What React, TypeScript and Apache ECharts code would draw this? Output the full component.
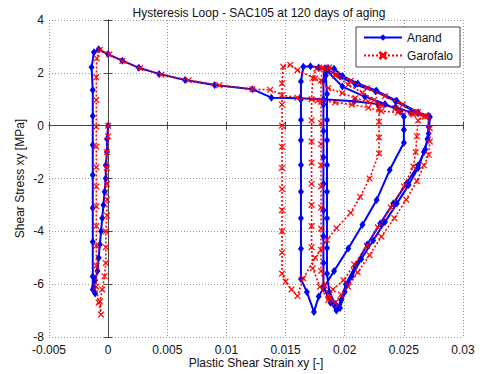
import React, { useEffect, useRef } from 'react';
import * as echarts from 'echarts';

type Pt = [number, number];

const chartTitle = 'Hysteresis Loop - SAC105 at 120 days of aging';
const xAxisName = 'Plastic Shear Strain xy [-]';
const yAxisName = 'Shear Stress xy [MPa]';
const seriesNames = ['Anand', 'Garofalo'];
const xMin = -0.005;
const xMax = 0.03;
const xStep = 0.005;
const yMin = -8;
const yMax = 4;
const yStep = 2;

// ---- Anand (blue) ----
const anandInitialDrop: Pt[] = [[0,0],[-0.0001,-0.5],[-0.0001,-1.0],[-0.0002,-1.5],[-0.0002,-2.0],[-0.0003,-2.5],[-0.0004,-3.0],[-0.0005,-3.5],[-0.0006,-4.0],[-0.0007,-4.5],[-0.0008,-5.0],[-0.0009,-5.5],[-0.0011,-5.85],[-0.0012,-6.1],[-0.0011,-6.35],[-0.0013,-6.2]];
const anandRise1: Pt[] = [[-0.0013,-5.71],[-0.0013,-4.39],[-0.0013,-3.12],[-0.0013,-1.87],[-0.0013,-0.73],[-0.0013,0.37],[-0.0013,1.35],[-0.0014,2.21],[-0.0012,2.78],[-0.0008,2.89]];
const anandTop1: Pt[] = [[0,2.7],[0.0012,2.46],[0.0026,2.19],[0.0043,1.96],[0.0065,1.73],[0.009,1.54],[0.0122,1.38],[0.0138,1.06],[0.0162,1.04],[0.0182,1.0],[0.0208,0.92],[0.0228,0.82],[0.0243,0.7],[0.0256,0.5],[0.0271,0.35]];
const anandDrop1: Pt[] = [[0.0271,-0.05],[0.027,-0.5],[0.0267,-1.0],[0.0262,-1.6],[0.0254,-2.25],[0.0244,-2.95],[0.0234,-3.65],[0.0224,-4.35],[0.0214,-5.05],[0.0206,-5.7],[0.02,-6.3],[0.0196,-6.9]];
const anandRise2: Pt[] = [[0.0192,-6.75],[0.0187,-6.3],[0.0185,-5.6],[0.0185,-4.63],[0.0185,-3.5],[0.0185,-2.5],[0.0185,-1.49],[0.0185,-0.55],[0.0185,0.21],[0.0185,1.2],[0.0184,1.9],[0.0186,2.18],[0.0191,2.15]];
const anandTop2: Pt[] = [[0.0198,1.88],[0.0211,1.6],[0.0227,1.32],[0.0244,0.94],[0.0262,0.5],[0.0272,0.33]];
const anandDrop2: Pt[] = [[0.0271,-0.3],[0.0268,-0.9],[0.0262,-1.5],[0.0252,-2.2],[0.0241,-2.95],[0.023,-3.7],[0.0219,-4.5],[0.0209,-5.3],[0.0201,-6.0],[0.0197,-6.6],[0.0193,-7.0]];
const anandRise3: Pt[] = [[0.0188,-6.7],[0.0182,-6.1],[0.0182,-5.2],[0.0182,-4.2],[0.0182,-3.2],[0.0182,-2.2],[0.0182,-1.2],[0.0182,-0.2],[0.0182,0.8],[0.0182,1.7],[0.0183,2.17]];
const anandTop3: Pt[] = [[0.0198,1.48],[0.0217,1.1],[0.0234,0.82],[0.0247,0.55],[0.025,0.34]];
const anandDrop3: Pt[] = [[0.025,-0.15],[0.025,-0.65],[0.0238,-1.68],[0.0227,-2.81],[0.0215,-3.75],[0.0203,-4.65],[0.0191,-5.5],[0.0182,-6.15],[0.0178,-6.47],[0.0174,-7.05],[0.0168,-6.3],[0.0163,-5.8]];
const anandRise4: Pt[] = [[0.0163,-4.66],[0.0163,-3.5],[0.0163,-2.5],[0.0163,-1.49],[0.0163,-0.55],[0.0163,0.21],[0.0163,1.0],[0.0163,1.67],[0.0165,2.23],[0.0171,2.25],[0.0178,2.2],[0.0185,2.12]];
const anandTop4: Pt[] = [[0.0196,1.86],[0.0209,1.56],[0.0226,1.3],[0.0243,0.92],[0.0262,0.47],[0.0271,0.37]];

// ---- Garofalo (red) ----
const garoInitialDrop: Pt[] = [[0,0],[0,-0.4],[-0.0001,-1.0],[-0.0001,-1.6],[-0.0001,-2.2],[-0.0001,-2.8],[-0.0001,-3.4],[-0.0002,-4.0],[-0.0002,-4.6],[-0.0002,-5.2],[-0.0003,-5.7],[-0.0005,-6.2],[-0.0007,-6.65],[-0.0006,-7.15]];
const garoRise1: Pt[] = [[-0.0008,-6.7],[-0.001,-6.1],[-0.001,-5.3],[-0.001,-4.55],[-0.001,-3.8],[-0.001,-3.05],[-0.001,-2.3],[-0.001,-1.57],[-0.001,-0.79],[-0.001,-0.04],[-0.001,0.97],[-0.001,1.83],[-0.00096,2.55],[-0.0007,2.87]];
const garoTop1: Pt[] = [[0.0001,2.7],[0.0012,2.45],[0.0027,2.18],[0.0045,1.93],[0.0068,1.72],[0.0094,1.53],[0.0122,1.38],[0.0137,1.36],[0.0147,1.16]];
const garoFlat1: Pt[] = [[0.016,1.06],[0.0177,0.95],[0.0192,0.88],[0.0206,0.8],[0.022,0.68],[0.0231,0.55],[0.0245,0.5],[0.0258,0.42],[0.027,0.35]];
const garoDrop1: Pt[] = [[0.0272,-0.1],[0.0272,-0.6],[0.0271,-1.1],[0.0267,-1.5],[0.0261,-2.1],[0.0252,-2.8],[0.0242,-3.5],[0.0231,-4.2],[0.0221,-4.9],[0.0211,-5.55],[0.0203,-6.1],[0.0197,-6.4],[0.0192,-6.7]];
const garoRise2: Pt[] = [[0.0187,-6.5],[0.0183,-6.05],[0.018,-5.5],[0.018,-4.7],[0.018,-3.9],[0.018,-3.1],[0.018,-2.3],[0.018,-1.5],[0.018,-0.7],[0.018,0.1],[0.018,0.9],[0.018,1.7],[0.0181,2.17],[0.0187,2.2]];
const garoTop2: Pt[] = [[0.0193,1.95],[0.0205,1.7],[0.0219,1.42],[0.0234,1.12],[0.0249,0.8],[0.0262,0.52],[0.0268,0.38]];
const garoDrop2: Pt[] = [[0.0262,0.2],[0.0261,-0.4],[0.026,-1.0],[0.0258,-1.55],[0.025,-2.3],[0.0239,-3.1],[0.0228,-3.85],[0.0219,-4.55],[0.0208,-5.25],[0.0199,-5.85],[0.019,-6.2],[0.0186,-6.6]];
const garoRise3: Pt[] = [[0.0179,-6.1],[0.0173,-5.4],[0.0172,-4.6],[0.0172,-3.8],[0.0172,-3.0],[0.0172,-2.2],[0.0172,-1.4],[0.0172,-0.6],[0.0172,0.2],[0.0172,1.0],[0.0173,1.8],[0.0176,2.15],[0.0182,2.2]];
const garoTop3: Pt[] = [[0.0192,1.9],[0.0203,1.55],[0.0215,1.25],[0.0225,0.98],[0.0229,0.62]];
const garoDrop3: Pt[] = [[0.0229,0.15],[0.0229,-0.45],[0.0229,-1.05],[0.0221,-2.0],[0.0213,-2.7],[0.0205,-3.3],[0.0193,-3.88],[0.0185,-4.33],[0.0175,-5.0],[0.0165,-5.78],[0.016,-6.45],[0.0155,-6.2],[0.015,-5.9],[0.0147,-5.6]];
const garoRise4: Pt[] = [[0.0147,-4.8],[0.0147,-4.0],[0.0147,-3.2],[0.0147,-2.4],[0.0147,-1.6],[0.0147,-0.8],[0.0147,0.0],[0.0147,0.8],[0.0147,1.6],[0.0148,2.23],[0.0154,2.3]];
const garoTop4: Pt[] = [[0.016,2.1],[0.0175,1.79],[0.0186,1.42],[0.0198,1.23],[0.0209,1.04],[0.022,0.91],[0.0231,0.78],[0.0243,0.66],[0.0257,0.47],[0.0268,0.34]];

const anandData: Pt[] = [
  ...anandInitialDrop, ...anandRise1, ...anandTop1, ...anandDrop1, ...anandRise2, ...anandTop2,
  ...anandDrop2, ...anandRise3, ...anandTop3, ...anandDrop3, ...anandRise4, ...anandTop4,
];
const garoData: Pt[] = [
  ...garoInitialDrop, ...garoRise1, ...garoTop1, ...garoFlat1, ...garoDrop1, ...garoRise2, ...garoTop2,
  ...garoDrop2, ...garoRise3, ...garoTop3, ...garoDrop3, ...garoRise4, ...garoTop4,
];

const xSymbol = 'path://M1,0 L5,4 L9,0 L10,1 L6,5 L10,9 L9,10 L5,6 L1,10 L0,9 L4,5 L0,1 Z';
const FONT = 'Liberation Sans, Arial, sans-serif';

const fmtX = (v: number) => String(parseFloat(v.toFixed(4)));

export default function App() {
  const ref = useRef<HTMLDivElement>(null);
  useEffect(() => {
    if (!ref.current) return;
    const chart = echarts.init(ref.current, undefined, { renderer: 'svg' });
    const axisCommon = {
      axisLine: { show: true, lineStyle: { color: '#444', width: 1 } },
      axisTick: { show: true, inside: true, length: 4, lineStyle: { color: '#444' } },
    };
    chart.setOption({
      animation: false,
      backgroundColor: '#fff',
      title: {
        text: chartTitle,
        left: 254,
        top: 2,
        textAlign: 'center',
        textStyle: { fontFamily: FONT, fontSize: 12, fontWeight: 'normal', color: '#111' },
      },
      legend: {
        orient: 'vertical',
        left: 356,
        top: 27,
        padding: [4, 7, 5, 7],
        itemGap: 5,
        itemWidth: 38,
        itemHeight: 8,
        borderColor: '#444',
        borderWidth: 1,
        backgroundColor: '#fff',
        textStyle: { fontFamily: FONT, fontSize: 12, color: '#111', lineHeight: 13 },
        data: seriesNames,
      },
      grid: { left: 49, right: 17, top: 20, bottom: 37, containLabel: false },
      xAxis: [
        {
          type: 'value', min: xMin, max: xMax, interval: xStep,
          name: xAxisName, nameLocation: 'middle', nameGap: 20, nameMoveOverlap: false,
          nameTextStyle: { fontFamily: FONT, fontSize: 12, color: '#111' },
          axisLabel: { fontFamily: FONT, fontSize: 12, color: '#111', margin: 7, lineHeight: 12, formatter: fmtX },
          splitLine: { show: true, lineStyle: { color: '#999', type: [1, 2], width: 1 } },
          ...axisCommon,
        },
        {
          type: 'value', position: 'top', min: xMin, max: xMax, interval: xStep,
          axisLabel: { show: false }, splitLine: { show: false },
          ...axisCommon,
        },
      ],
      yAxis: [
        {
          type: 'value', min: yMin, max: yMax, interval: yStep,
          name: yAxisName, nameLocation: 'middle', nameGap: 23, nameMoveOverlap: false,
          nameTextStyle: { fontFamily: FONT, fontSize: 12, color: '#111' },
          axisLabel: { fontFamily: FONT, fontSize: 12, color: '#111', margin: 5, lineHeight: 11 },
          splitLine: { show: true, lineStyle: { color: '#999', type: [1, 2], width: 1 } },
          ...axisCommon,
        },
        {
          type: 'value', position: 'right', min: yMin, max: yMax, interval: yStep,
          axisLabel: { show: false }, splitLine: { show: false },
          ...axisCommon,
        },
      ],
      series: [
        {
          name: seriesNames[0],
          type: 'line',
          data: anandData,
          symbol: 'diamond',
          symbolSize: [6, 8],
          showAllSymbol: true,
          lineStyle: { color: '#0000ff', width: 2 },
          itemStyle: { color: '#0000ff' },
          z: 2,
        },
        {
          name: seriesNames[1],
          type: 'line',
          data: garoData,
          symbol: xSymbol,
          symbolSize: 6,
          showAllSymbol: true,
          lineStyle: { color: '#ff0000', width: 1.6, type: [2, 2] },
          itemStyle: { color: '#ff0000', borderColor: '#ff0000', borderWidth: 0.5 },
          z: 3,
        },
      ],
    });
    return () => chart.dispose();
  }, []);
  return (
    <div
      ref={ref}
      style={{ position: 'absolute', left: 0, top: 0, width: 480, height: 374 }}
    />
  );
}
